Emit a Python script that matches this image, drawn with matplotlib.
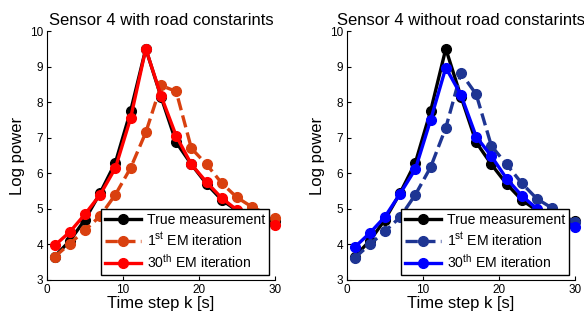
import matplotlib
matplotlib.use("Agg")
import matplotlib.pyplot as plt

plt.rcParams['font.family'] = ['Liberation Sans', 'DejaVu Sans']
plt.rcParams['mathtext.default'] = 'regular'

# Time steps
k = [1, 3, 5, 7, 9, 11, 13, 15, 17, 19, 21, 23, 25, 27, 30]

# Left panel: with road constraints
true_meas = [3.66, 4.10, 4.70, 5.45, 6.30, 7.75, 9.50, 8.15, 6.87, 6.25, 5.70, 5.25, 4.95, 4.80, 4.65]
em1_road = [3.65, 4.02, 4.40, 4.80, 5.40, 6.15, 7.15, 8.47, 8.30, 6.70, 6.25, 5.72, 5.32, 5.05, 4.75]
em30_road = [3.97, 4.35, 4.85, 5.40, 6.15, 7.55, 9.50, 8.18, 7.05, 6.25, 5.75, 5.30, 4.97, 4.75, 4.55]

# Right panel: without road constraints
em1_free = [3.62, 4.00, 4.37, 4.77, 5.40, 6.17, 7.28, 8.82, 8.22, 6.77, 6.25, 5.72, 5.28, 5.02, 4.62]
em30_free = [3.92, 4.32, 4.78, 5.43, 6.12, 7.50, 8.97, 8.20, 7.03, 6.48, 5.85, 5.37, 5.00, 4.80, 4.50]

titles = ["Sensor 4 with road constarints", "Sensor 4 without road constarints"]
labels = ["True measurement", "1$^{st}$ EM iteration", "30$^{th}$ EM iteration"]
xticks = [0, 10, 20, 30]
yticks = [3, 4, 5, 6, 7, 8, 9, 10]

fig = plt.figure(figsize=(5.84, 3.18), dpi=100)
ax1 = fig.add_axes([47/584, 1-280/318, 228/584, 249/318])
ax2 = fig.add_axes([347/584, 1-280/318, 228/584, 249/318])

panels = [
    (ax1, em1_road, em30_road, '#d9400f', '#ff0000'),
    (ax2, em1_free, em30_free, '#1e3593', '#0000ff'),
]

lw = 2.4
ms = 7
for i, (ax, e1, e30, c1, c30) in enumerate(panels):
    ax.plot(k, true_meas, '-o', color='black', lw=lw, ms=ms, label=labels[0], clip_on=False)
    ax.plot(k, e1, '--o', color=c1, lw=lw, ms=ms, label=labels[1], clip_on=False)
    ax.plot(k, e30, '-o', color=c30, lw=lw, ms=ms, label=labels[2], clip_on=False)
    ax.set_xlim(0, 30)
    ax.set_ylim(3, 10)
    ax.set_xticks(xticks)
    ax.set_yticks(yticks)
    ax.spines['top'].set_visible(False)
    ax.spines['right'].set_visible(False)
    ax.tick_params(direction='in', labelsize=8.5, length=3, pad=3)
    ax.set_title(titles[i], fontsize=12, pad=4)
    ax.set_xlabel("Time step k [s]", fontsize=12, labelpad=0)
    ax.set_ylabel("Log power", fontsize=12, labelpad=3)
    leg = ax.legend(loc='lower right', bbox_to_anchor=(0.975, 0.02), fontsize=10.1,
                    frameon=True, fancybox=False, framealpha=1, edgecolor='black',
                    borderpad=0.3, labelspacing=0.3, handlelength=2.5,
                    handletextpad=0.45, markerscale=1.0, borderaxespad=0)
    leg.get_frame().set_linewidth(1.0)
    leg.set_zorder(5)

fig.savefig("out.png", dpi=100)
